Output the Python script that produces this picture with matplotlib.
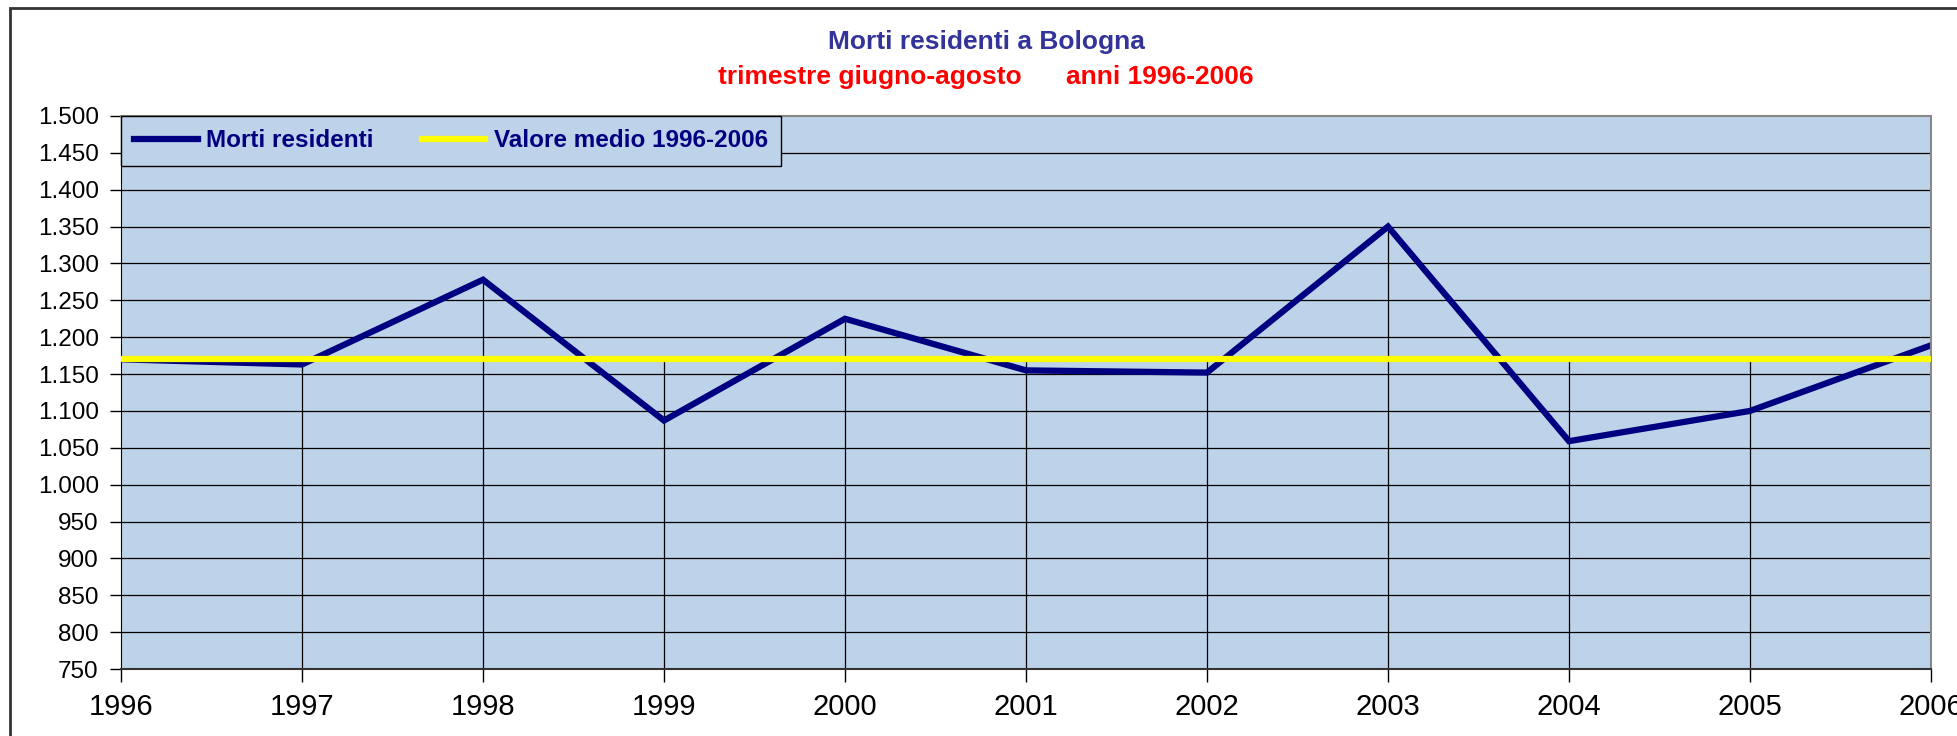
import numpy as np
from matplotlib import pyplot as plt
from matplotlib.patches import Rectangle

# Dati
anni = [1996, 1997, 1998, 1999, 2000, 2001, 2002, 2003, 2004, 2005, 2006]
morti = [1170, 1163, 1278, 1087, 1225, 1155, 1152, 1350, 1059, 1100, 1189]
media = 1171
yticks = list(range(750, 1501, 50))
ytick_labels = ['{:,}'.format(v).replace(',', '.') for v in yticks]

plt.rcParams['font.family'] = ['Liberation Sans', 'DejaVu Sans']

fig = plt.figure(figsize=(19.57, 7.36), dpi=100)
ax = fig.add_axes([121/1957, 1 - 669/736, (1931-121)/1957, (669-116)/736])
ax.set_facecolor('#BDD3E9')

# linee di riferimento orizzontali
for v in yticks[1:-1]:
	ax.axhline(v, color='black', lw=0.9, zorder=1)

# linee verticali dalla base fino al valore piu' alto
top = np.maximum(np.array(morti), media)
ax.vlines(anni[1:], 750, top[1:], colors='black', lw=0.9, zorder=1)

ax.plot(anni, morti, color='#000080', lw=4.5, solid_joinstyle='miter', label='Morti residenti', zorder=2)
ax.plot(anni, [media]*len(anni), color='#FFFF00', lw=4.5, label='Valore medio 1996-2006', zorder=3)

ax.set_xlim(1996, 2006)
ax.set_ylim(750, 1500)
ax.set_xticks(anni)
ax.set_xticklabels([str(a) for a in anni], fontsize=21)
ax.set_yticks(yticks)
ax.set_yticklabels(ytick_labels, fontsize=17.5)
ax.tick_params(axis='y', direction='out', length=8, width=1, pad=8)
ax.tick_params(axis='x', direction='out', length=9, width=1, pad=8)

ax.spines['left'].set_color('black')
ax.spines['bottom'].set_color('#333333')
ax.spines['bottom'].set_linewidth(1.5)
ax.spines['top'].set_color('#888888')
ax.spines['top'].set_linewidth(1.5)
ax.spines['right'].set_color('#888888')
ax.spines['right'].set_linewidth(1.5)

leg = ax.legend(loc='upper left', bbox_to_anchor=(0.0, 1.0), ncol=2,
	prop={'weight': 'bold', 'size': 17.5}, frameon=True, fancybox=False,
	handlelength=2.6, handletextpad=0.35, columnspacing=2.0, borderpad=0.55,
	borderaxespad=0)
leg.get_frame().set_facecolor('#BDD3E9')
leg.get_frame().set_edgecolor('black')
leg.get_frame().set_linewidth(1.0)
leg.get_frame().set_alpha(1)
for t in leg.get_texts():
	t.set_color('#000080')

# titolo
fig.text(986/1957, 1 - 42/736, 'Morti residenti a Bologna', color='#333399',
	fontsize=19, fontweight='bold', ha='center', va='center')
fig.text(986/1957, 1 - 77/736, 'trimestre giugno-agosto      anni 1996-2006', color='#FF0000',
	fontsize=19, fontweight='bold', ha='center', va='center')

# bordo esterno del grafico
fig.patches.append(Rectangle((10/1957, -0.1), 1.2, 1 - 8/736 + 0.1, transform=fig.transFigure,
	fill=False, edgecolor='#333333', lw=2))

plt.savefig('out.png', dpi=100)
